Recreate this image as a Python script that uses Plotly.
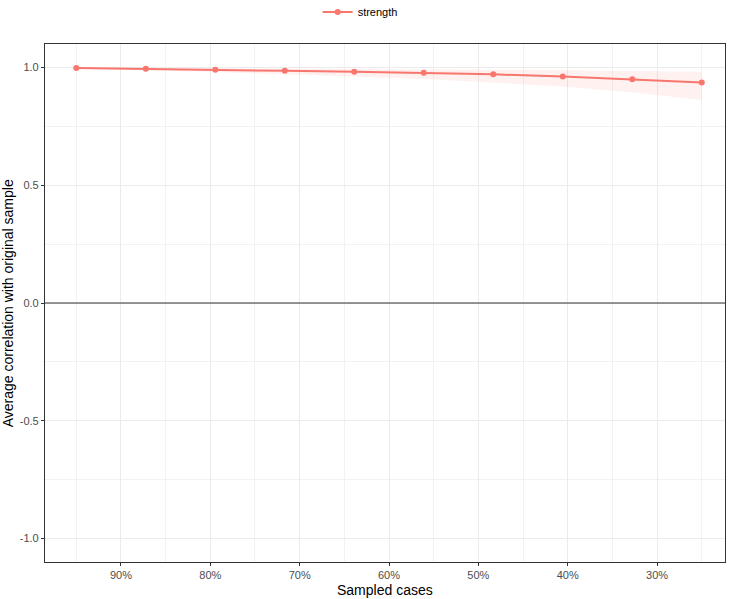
import plotly.graph_objects as go

sampled = [0.95, 0.8722, 0.7944, 0.7167, 0.6389, 0.5611, 0.4833, 0.4056, 0.3278, 0.25]
mean_cor = [0.998, 0.995, 0.991, 0.986, 0.982, 0.978, 0.971, 0.962, 0.950, 0.937]
lower = [0.995, 0.989, 0.981, 0.971, 0.962, 0.951, 0.936, 0.919, 0.895, 0.862]
upper = [1.000, 0.999, 0.998, 0.997, 0.996, 0.994, 0.991, 0.988, 0.985, 0.982]
series_name = "strength"
x_ticks = [0.9, 0.8, 0.7, 0.6, 0.5, 0.4, 0.3]
x_labels = ["90%", "80%", "70%", "60%", "50%", "40%", "30%"]
y_ticks = [-1.0, -0.5, 0.0, 0.5, 1.0]
y_labels = ["-1.0", "-0.5", "0.0", "0.5", "1.0"]
x_title = "Sampled cases"
y_title = "Average correlation with original sample"

red = "#F8766D"
grid = "#EBEBEB"
fig = go.Figure()
fig.add_trace(go.Scatter(x=sampled, y=upper, mode="lines", line=dict(width=0),
                         showlegend=False, hoverinfo="skip"))
fig.add_trace(go.Scatter(x=sampled, y=lower, mode="lines", line=dict(width=0),
                         fill="tonexty", fillcolor="rgba(248,118,109,0.1)",
                         showlegend=False, hoverinfo="skip"))
fig.add_trace(go.Scatter(x=sampled, y=mean_cor, mode="lines+markers", name=series_name,
                         line=dict(color=red, width=2),
                         marker=dict(color=red, size=6)))

fig.add_hline(y=0, line=dict(color="#333333", width=1.2))

fig.add_annotation(text=x_title, xref="paper", yref="paper", x=0.5, y=-0.054,
                   xanchor="center", yanchor="middle", showarrow=False,
                   font=dict(size=14, color="black"))
fig.add_annotation(text=y_title, xref="paper", yref="paper", x=-0.054, y=0.5,
                   xanchor="center", yanchor="middle", showarrow=False, textangle=-90,
                   font=dict(size=14, color="black"))

fig.update_layout(
    width=735, height=599,
    margin=dict(l=45, r=10, t=44, b=37, autoexpand=False),
    plot_bgcolor="white", paper_bgcolor="white",
    font=dict(family="Liberation Sans, Arial, sans-serif", color="#4D4D4D", size=11),
    legend=dict(orientation="h", xref="container", x=0.49, xanchor="center",
                yref="paper", y=1.062, yanchor="middle",
                font=dict(size=11, color="black"), bgcolor="rgba(0,0,0,0)"),
    xaxis=dict(range=[0.985, 0.224], tickvals=x_ticks, ticktext=x_labels,
               automargin=False,
               showgrid=True, gridcolor=grid, gridwidth=1,
               minor=dict(tickvals=[0.95, 0.85, 0.75, 0.65, 0.55, 0.45, 0.35, 0.25],
                          showgrid=True, gridcolor="#F2F2F2", gridwidth=0.6),
               ticks="outside", ticklen=3, tickcolor="#333333",
               showline=True, linecolor="#333333", linewidth=1.2, mirror=True,
               zeroline=False),
    yaxis=dict(range=[-1.1, 1.1], tickvals=y_ticks, ticktext=y_labels,
               automargin=False,
               showgrid=True, gridcolor=grid, gridwidth=1,
               minor=dict(tickvals=[-0.75, -0.25, 0.25, 0.75],
                          showgrid=True, gridcolor="#F2F2F2", gridwidth=0.6),
               ticks="outside", ticklen=3, tickcolor="#333333",
               showline=True, linecolor="#333333", linewidth=1.2, mirror=True,
               zeroline=False),
)

fig.write_html("out.html", config={"displayModeBar": False},
               post_script="document.body.style.margin='0';document.body.style.overflow='hidden';")
